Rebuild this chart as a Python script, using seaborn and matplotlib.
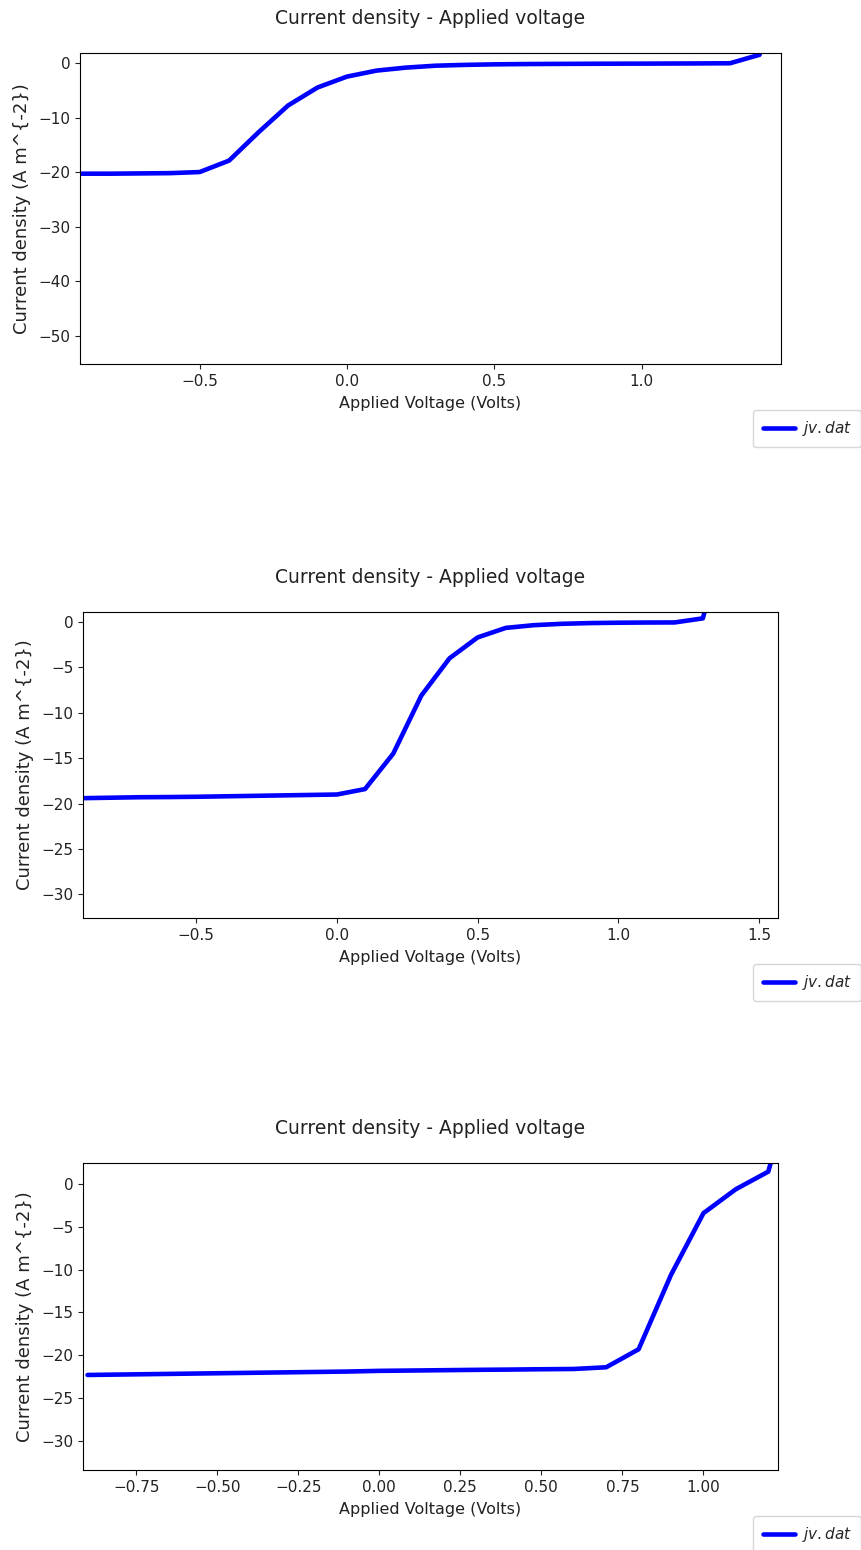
import numpy as np
import pandas as pd
import matplotlib
matplotlib.use("Agg")
import matplotlib.pyplot as plt
import seaborn as sns

# ---- data ----
voltage_1 = [-0.9, -0.8, -0.7, -0.6, -0.5, -0.4, -0.3, -0.2, -0.1, 0.0, 0.1, 0.2, 0.3,
             0.4, 0.5, 0.6, 0.7, 0.8, 0.9, 1.0, 1.1, 1.2, 1.3, 1.4, 1.5]
current_1 = [-20.3, -20.3, -20.25, -20.2, -20.0, -17.9, -12.7, -7.8, -4.5, -2.5, -1.4, -0.85, -0.5,
             -0.35, -0.25, -0.2, -0.17, -0.15, -0.13, -0.12, -0.1, -0.08, -0.05, 1.5, 30.0]

voltage_2 = [-0.9, -0.8, -0.7, -0.6, -0.5, -0.4, -0.3, -0.2, -0.1, 0.0, 0.1, 0.2, 0.3,
             0.4, 0.5, 0.6, 0.7, 0.8, 0.9, 1.0, 1.1, 1.2, 1.3, 1.4]
current_2 = [-19.4, -19.35, -19.3, -19.28, -19.25, -19.2, -19.15, -19.1, -19.05, -19.0, -18.4, -14.5, -8.1,
             -4.0, -1.7, -0.65, -0.35, -0.2, -0.12, -0.08, -0.06, -0.05, 0.4, 12.0]

voltage_3 = [-0.9, -0.8, -0.7, -0.6, -0.5, -0.4, -0.3, -0.2, -0.1, 0.0, 0.1, 0.2, 0.3,
             0.4, 0.5, 0.6, 0.7, 0.8, 0.9, 1.0, 1.1, 1.2, 1.3]
current_3 = [-22.3, -22.25, -22.2, -22.15, -22.1, -22.05, -22.0, -21.95, -21.9, -21.82, -21.78, -21.74, -21.7,
             -21.67, -21.63, -21.6, -21.4, -19.3, -10.6, -3.4, -0.6, 1.45, 15.0]

series = [(voltage_1, current_1), (voltage_2, current_2), (voltage_3, current_3)]
xlims = [(-0.906, 1.473), (-0.902, 1.567), (-0.914, 1.23)]
ylims = [(-55.2, 1.83), (-32.6, 1.1), (-33.4, 2.46)]

title = "Current density - Applied voltage"
xlabel = "Applied Voltage (Volts)"
ylabel = "Current density (A m^{-2})"
legend_label = "$jv.dat$"

# ---- style ----
sns.set_style("ticks")
plt.rcParams["font.family"] = ["DejaVu Sans"]
plt.rcParams["font.size"] = 11

W, H = 862, 1550
fig = plt.figure(figsize=(W / 100, H / 100), dpi=100)

# axes boxes in pixels: left, right, top, bottom
boxes = [(80, 781, 53, 364), (83, 778, 612, 918), (83, 778, 1163, 1470)]

for (l, r, t, b), (v, j), xl, yl in zip(boxes, series, xlims, ylims):
    ax = fig.add_axes([l / W, 1 - b / H, (r - l) / W, (b - t) / H])
    df = pd.DataFrame({"V": v, "J": j})
    sns.lineplot(data=df, x="V", y="J", ax=ax, color="blue", linewidth=3.3,
                 label=legend_label, sort=False)
    ax.set_xlim(*xl)
    ax.set_ylim(*yl)
    ax.set_title(title, fontsize=13.5, pad=21, color="#222222")
    ax.set_xlabel(xlabel, fontsize=11.5, color="#222222", labelpad=5)
    ax.set_ylabel(ylabel, fontsize=13, color="#222222", labelpad=5)
    ax.tick_params(labelsize=11, colors="#222222")
    for s in ax.spines.values():
        s.set_color("black")
        s.set_linewidth(0.8)
    h = (b - t)
    ax.legend(loc="upper right", bbox_to_anchor=((861 - l) / (r - l), -46 / h),
              borderaxespad=0, borderpad=0.6, fontsize=11, frameon=True,
              handlelength=2.1, handletextpad=0.45)

fig.savefig("out.png", dpi=100)
